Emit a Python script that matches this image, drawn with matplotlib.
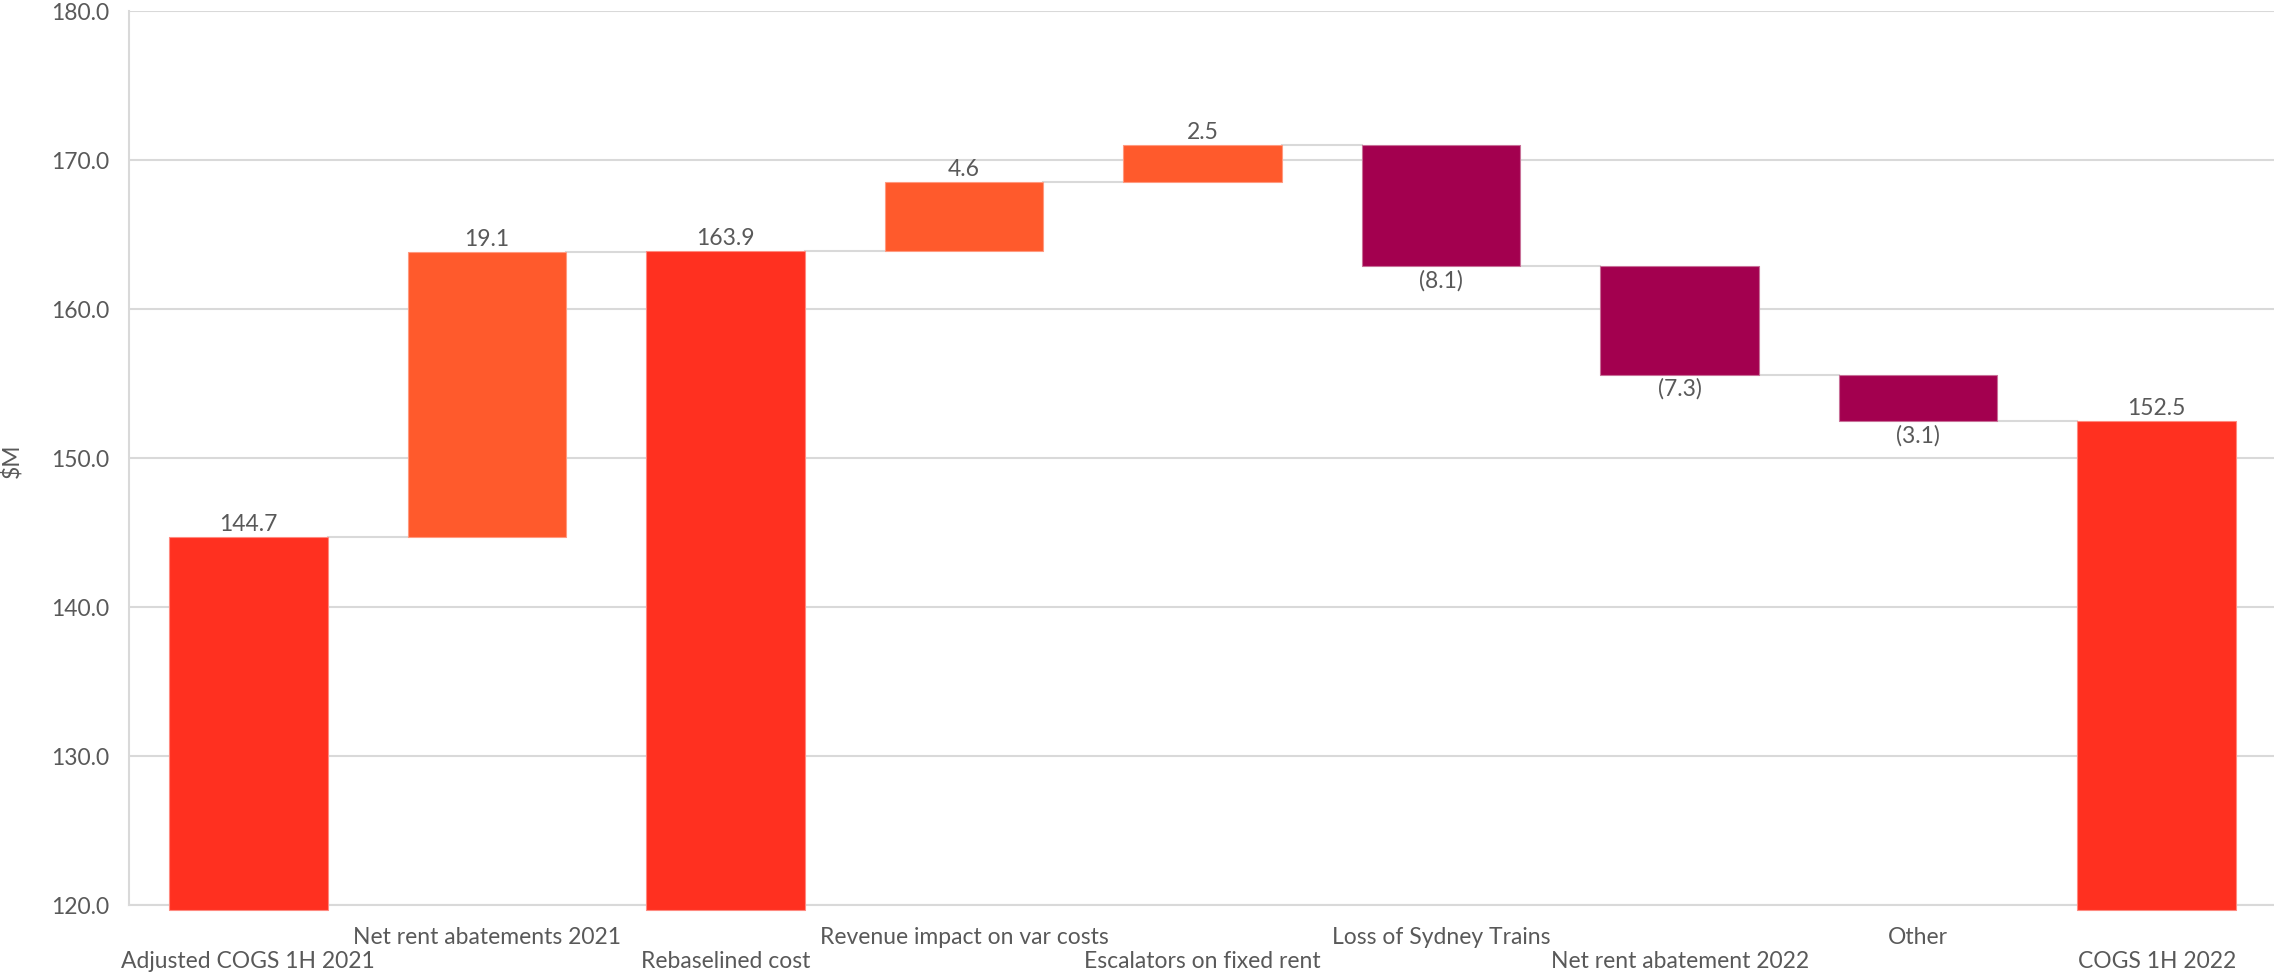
import matplotlib
matplotlib.use("Agg")
import matplotlib.pyplot as plt
import matplotlib.transforms as mtransforms
import numpy as np

plt.rcParams['font.family'] = ['Lato', 'DejaVu Sans']

categories = ["Adjusted COGS 1H 2021", "Net rent abatements 2021", "Rebaselined cost",
              "Revenue impact on var costs", "Escalators on fixed rent", "Loss of Sydney Trains",
              "Net rent abatement 2022", "Other", "COGS 1H 2022"]
values = [144.7, 19.1, 163.9, 4.6, 2.5, -8.1, -7.3, -3.1, 152.5]
kinds = ["total", "delta", "total", "delta", "delta", "delta", "delta", "delta", "total"]
labels = ["144.7", "19.1", "163.9", "4.6", "2.5", "(8.1)", "(7.3)", "(3.1)", "152.5"]

c_total = "#FF3020"
c_up = "#FF5A2C"
c_down = "#A3004F"
grid_c = "#D9D9D9"
text_c = "#595959"

fig = plt.figure(figsize=(22.74, 9.78), dpi=100)
ax = fig.add_axes([129/2274, 1 - 906/978, (2276-129)/2274, (906-12)/978])

ymin, ymax = 120, 180
x = np.arange(len(categories))
w = 0.665

levels = []
run = 0
for v, k in zip(values, kinds):
    run = v if k == "total" else run + v
    levels.append(run)

prev = 0
for i, (v, k) in enumerate(zip(values, kinds)):
    if k == "total":
        b, t = ymin - 0.35, v
        col = c_total
        ec = "#FF8A80"
    else:
        b, t = min(prev, levels[i]), max(prev, levels[i])
        col = c_up if v > 0 else c_down
        ec = "#FF9A80" if v > 0 else "#C87098"
    prev = levels[i]
    ax.bar(x[i], t - b, bottom=b, width=w, color=col, edgecolor=ec,
           linewidth=0.8, zorder=3, clip_on=False)
    if v >= 0:
        ax.text(x[i], t + 0.2, labels[i], ha="center", va="bottom", fontsize=16.5, color=text_c, zorder=4)
    else:
        ax.text(x[i], b - 0.2, labels[i], ha="center", va="top", fontsize=16.5, color=text_c, zorder=4)

for i in range(len(values) - 1):
    ax.plot([x[i] + w/2, x[i+1] - w/2], [levels[i], levels[i]], color=grid_c, lw=1.5, zorder=2)

ax.set_ylim(ymin, ymax)
ax.set_xlim(-0.5, 8.5)
yt = np.arange(120, 181, 10)
ax.set_yticks(yt)
ax.set_yticklabels([f"{t:.1f}" for t in yt], fontsize=16.5, color=text_c)
ax.yaxis.grid(True, color=grid_c, lw=1.5, zorder=0)
ax.set_axisbelow(True)
ax.tick_params(axis="y", length=0, pad=14)
ax.set_xticks([])
for s in ["top", "right"]:
    ax.spines[s].set_visible(False)
for s in ["left", "bottom"]:
    ax.spines[s].set_color(grid_c)
    ax.spines[s].set_linewidth(1.5)

trans = mtransforms.blended_transform_factory(ax.transData, fig.transFigure)
for i, c in enumerate(categories):
    yy = 962 if i % 2 == 0 else 938
    ax.text(x[i], 1 - yy/978, c, transform=trans, ha="center", va="center",
            fontsize=16.5, color=text_c, clip_on=False)

fig.text(12/2274, 1 - 461/978, "$M", rotation=90, ha="center", va="center", fontsize=16.5, color=text_c)

fig.savefig("out.png", dpi=100, facecolor="white")
